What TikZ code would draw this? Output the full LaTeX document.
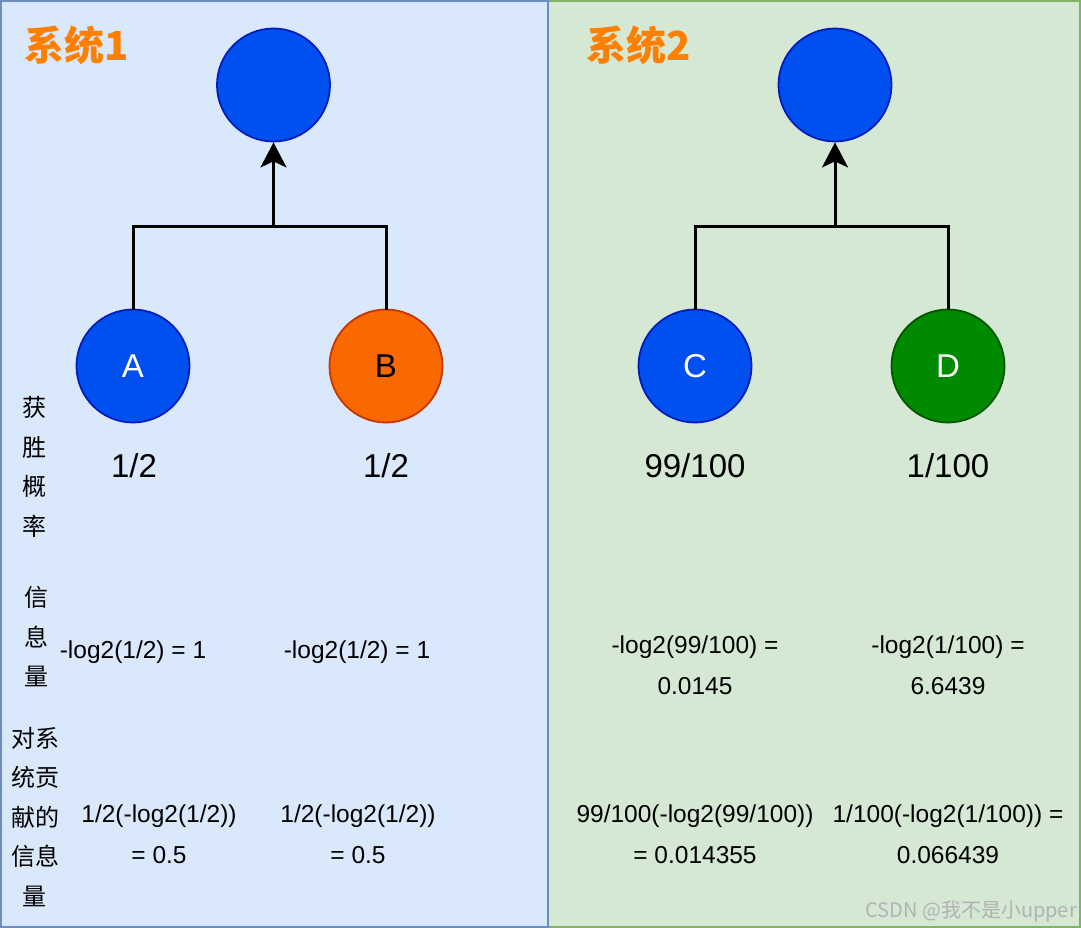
\documentclass[tikz,border=0pt]{standalone}
\usepackage{fontspec}
\setmainfont{Liberation Sans}
\newfontfamily\cjk{Noto Sans CJK SC}
\usetikzlibrary{arrows.meta}
\definecolor{bluebg}{HTML}{DAE8FC}
\definecolor{blueln}{HTML}{6C8EBF}
\definecolor{greenbg}{HTML}{D5E8D4}
\definecolor{greenln}{HTML}{82B366}
\definecolor{cblue}{HTML}{0050EF}
\definecolor{cbluel}{HTML}{001DBC}
\definecolor{corange}{HTML}{FA6800}
\definecolor{corangel}{HTML}{C73500}
\definecolor{cgreen}{HTML}{008A00}
\definecolor{cgreenl}{HTML}{005700}
\definecolor{titleor}{HTML}{FF8000}
\tikzset{
  ball/.style={circle, minimum size=113pt, inner sep=0pt, line width=1.8pt, font=\fontsize{33}{40}\selectfont},
  bluebll/.style={ball, fill=cblue, draw=cbluel, text=white},
  orangebll/.style={ball, fill=corange, draw=corangel, text=black},
  greenbll/.style={ball, fill=cgreen, draw=cgreenl, text=white},
  conn/.style={line width=3pt, line cap=rect},
  prob/.style={font=\fontsize{33}{40}\selectfont, inner sep=0pt},
  calc/.style={font=\fontsize{24.5}{41}\selectfont, align=center, inner sep=0pt},
  side/.style={font=\cjk\fontsize{24}{39.5}\selectfont, align=center, inner sep=0pt},
  ttl/.style={font=\cjk\bfseries\fontsize{40}{46}\selectfont, text=titleor, inner sep=0pt, anchor=west},
}
\begin{document}
\begin{tikzpicture}[x=1pt,y=-1pt]
\useasboundingbox (0,0) rectangle (1081,928);
% panels
\draw[fill=greenbg, draw=greenln, line width=2pt] (548,1) rectangle (1080,927);
\draw[fill=bluebg, draw=blueln, line width=2pt] (1,1) rectangle (548,927);
% titles
\node[ttl] (t1) at (24,45) {系统1};
\node[ttl] (t2) at (586,45) {系统2};
% system 1
\node[bluebll] (top1) at (273.5,85) {};
\node[bluebll] (A) at (133,366) {A};
\node[orangebll] (B) at (386,366) {B};
\coordinate (j1) at (273.5,226);
\draw[conn] (A.north) |- (j1) -| (B.north);
\draw[conn, line cap=butt, -{Stealth[length=25pt,width=26pt,inset=6pt]}] (j1) -- (top1.south);
% system 2
\node[bluebll] (top2) at (835,85) {};
\node[bluebll] (C) at (695,366) {C};
\node[greenbll] (D) at (948,366) {D};
\coordinate (j2) at (835,226);
\draw[conn] (C.north) |- (j2) -| (D.north);
\draw[conn, line cap=butt, -{Stealth[length=25pt,width=26pt,inset=6pt]}] (j2) -- (top2.south);
% probabilities
\node[prob] (pA) at (134,466) {1/2};
\node[prob] (pB) at (386,466) {1/2};
\node[prob] (pC) at (695,466) {99/100};
\node[prob] (pD) at (948,466) {1/100};
% side labels
\node[side] (s1) at (35,467) {获\\胜\\概\\率};
\node[side] (s2) at (36,637) {信\\息\\量};
\node[side] (s3) at (35,817) {对系\\统贡\\献的\\信息\\量};
% information
\node[calc] (iA) at (133,652) {-log2(1/2) = 1};
\node[calc] (iB) at (357,652) {-log2(1/2) = 1};
\node[calc] (iC) at (695,665) {-log2(99/100) =\\0.0145};
\node[calc] (iD) at (948,665) {-log2(1/100) =\\6.6439};
% contribution
\node[calc] (cA) at (159,834) {1/2(-log2(1/2))\\= 0.5};
\node[calc] (cB) at (358,834) {1/2(-log2(1/2))\\= 0.5};
\node[calc] (cC) at (695,834) {99/100(-log2(99/100))\\= 0.014355};
\node[calc] (cD) at (948,834) {1/100(-log2(1/100)) =\\0.066439};
% watermark
\node[font=\cjk\fontsize{20}{22}\selectfont, text=black!30, anchor=east, inner sep=0pt] (wm) at (1077,911) {CSDN @我不是小upper};
\end{tikzpicture}
\end{document}
